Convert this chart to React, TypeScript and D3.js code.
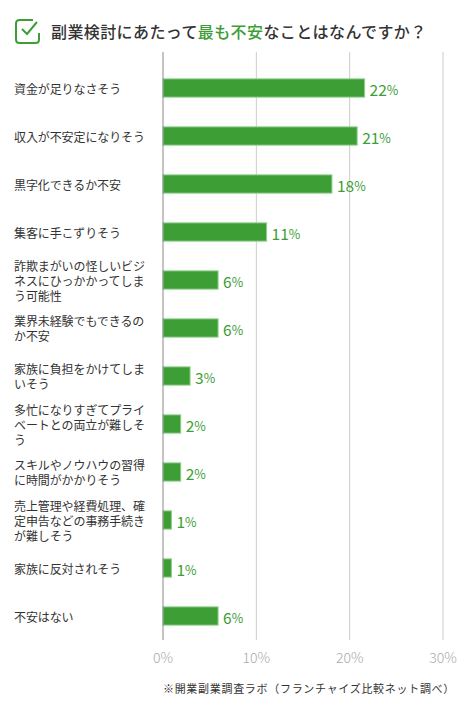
import React from 'react';
import * as d3 from 'd3';

const categories: string[][] = [
  ['資金が足りなさそう'],
  ['収入が不安定になりそう'],
  ['黒字化できるか不安'],
  ['集客に手こずりそう'],
  ['詐欺まがいの怪しいビジ', 'ネスにひっかかってしま', 'う可能性'],
  ['業界未経験でもできるの', 'か不安'],
  ['家族に負担をかけてしま', 'いそう'],
  ['多忙になりすぎてプライ', 'ベートとの両立が難しそ', 'う'],
  ['スキルやノウハウの習得', 'に時間がかかりそう'],
  ['売上管理や経費処理、確', '定申告などの事務手続き', 'が難しそう'],
  ['家族に反対されそう'],
  ['不安はない'],
];
const values = [21.6, 20.8, 18.1, 11.1, 5.9, 5.9, 2.9, 1.9, 1.9, 0.9, 0.9, 5.9];
const valueLabels = ['22', '21', '18', '11', '6', '6', '3', '2', '2', '1', '1', '6'];
const ticks = [0, 10, 20, 30];

const GREEN = '#3d9e35';
const FONT = '"Noto Sans CJK JP", "Noto Sans", sans-serif';

const App = () => {
  const width = 470;
  const height = 713;
  const x = d3.scaleLinear().domain([0, 30]).range([163, 443]);
  const y = d3
    .scaleBand<number>()
    .domain(d3.range(categories.length))
    .range([64, 640])
    .paddingInner(0.62)
    .paddingOuter(0.31);
  const lineH = 15;

  return (
    <div style={{ margin: -8 }}>
      <svg width={width} height={height} style={{ display: 'block', fontFamily: FONT }}>
        <rect width={width} height={height} fill="#fff" />
        {/* check icon */}
        <path
          d="M33 20 H19.5 Q16 20 16 23.5 V39.5 Q16 43 19.5 43 H35.5 Q39 43 39 39.5 V33"
          fill="none"
          stroke={GREEN}
          strokeWidth={2}
        />
        <path d="M22 29 L27 34 L37 22" fill="none" stroke={GREEN} strokeWidth={2} />
        <text x={51} y={37.5} fontSize={16} fontWeight={500} fill="#333" letterSpacing={0.4}>
          副業検討にあたって<tspan fill={GREEN}>最も不安</tspan>なことはなんですか？
        </text>

        {/* grid */}
        {ticks.slice(1).map((t) => (
          <line key={t} x1={x(t)} x2={x(t)} y1={52} y2={640} stroke="#ccc" strokeWidth={1} />
        ))}

        {categories.map((lines, i) => {
          const cy = (y(i) as number) + y.bandwidth() / 2;
          const top = cy - ((lines.length - 1) * lineH) / 2;
          return (
            <g key={i}>
              <text x={14} fontSize={12} fill="#333" letterSpacing={-0.1}>
                {lines.map((l, j) => (
                  <tspan key={j} x={14} y={top + j * lineH} dominantBaseline="central">
                    {l}
                  </tspan>
                ))}
              </text>
              <rect
                x={x(0)}
                y={y(i)}
                width={x(values[i]) - x(0)}
                height={y.bandwidth()}
                fill={GREEN}
                stroke="#8fcf88"
                strokeWidth={1}
              />
              <text
                x={x(values[i]) + 5}
                y={cy + 1}
                dominantBaseline="central"
                fill={GREEN}
                fontWeight={400}
              >
                <tspan fontSize={15.5}>{valueLabels[i]}</tspan>
                <tspan fontSize={12.5}>%</tspan>
              </text>
            </g>
          );
        })}

        <line x1={x(0)} x2={x(0)} y1={52} y2={640} stroke="#888" strokeWidth={1} />

        {ticks.map((t) => (
          <text
            key={t}
            x={x(t)}
            y={657}
            textAnchor="middle"
            dominantBaseline="central"
            fontSize={14}
            fontWeight={300}
            fill="#aaa"
          >
            {t}%
          </text>
        ))}

        <text x={455} y={688} textAnchor="end" dominantBaseline="central" fontSize={11} fill="#333" letterSpacing={0.7}>
          ※開業副業調査ラボ（フランチャイズ比較ネット調べ）
        </text>
      </svg>
    </div>
  );
};

export default App;
